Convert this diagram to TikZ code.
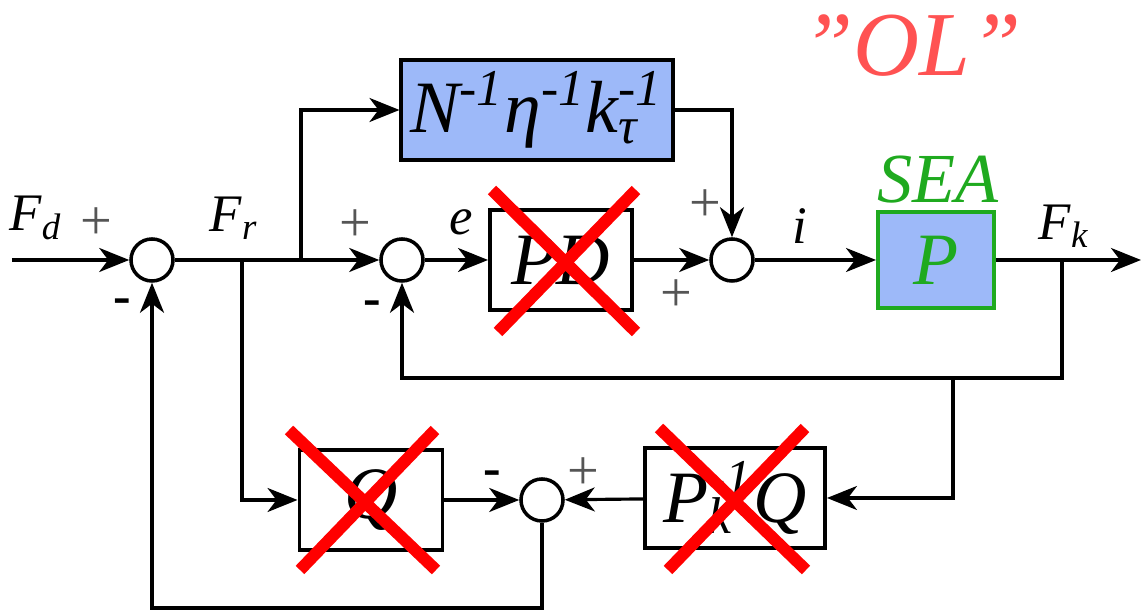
\documentclass[tikz,border=0pt]{standalone}
\usepackage{fontspec}
\setmainfont{Liberation Serif}
\usetikzlibrary{arrows.meta}
\definecolor{blkfill}{HTML}{9DB9F9}
\definecolor{seagreen}{HTML}{1FAA1F}
\definecolor{olred}{HTML}{FF5252}
\definecolor{sgngray}{HTML}{555555}
\newcommand{\sig}[2]{\textit{#1}\textsubscript{\textit{#2}}}
\newcommand{\inv}[1]{\textit{#1}\textsuperscript{\textit{-1}}}

\begin{document}
\begin{tikzpicture}[x=0.01cm, y=-0.01cm,
  blk/.style={draw, line width=1.1pt, inner sep=0pt, font=\fontsize{21}{24}\selectfont\itshape,
              minimum width=#1, minimum height=1cm},
  blk/.default=1.42cm,
  sum/.style={draw, circle, line width=1pt, minimum size=0.42cm, inner sep=0pt},
  lbl/.style={font=\fontsize{15}{18}\selectfont\itshape, inner sep=1pt},
  pls/.style={font=\fontsize{16}{18}\selectfont, text=sgngray, inner sep=0pt},
  mns/.style={font=\fontsize{15}{15}\selectfont\bfseries, inner sep=0pt},
  cross/.style={draw=red, line width=3.4pt},
  line width=0.9pt,
  >={Stealth[length=3mm, width=2.4mm, inset=0.9mm]}]
  \useasboundingbox (0,0) rectangle (1141,613);
  % summing junctions
  \node[sum] (sumd) at (152,260) {};
  \node[sum] (sume) at (402,260) {};
  \node[sum] (sumi) at (732,260) {};
  \node[sum] (sumq) at (542,500) {};
  % blocks
  \node[blk=2.71cm, fill=blkfill] (ffw) at (537,110) {\inv{N}\inv{η}\textit{k}\rlap{\textsubscript{\textit{τ}}}\textsuperscript{\textit{-1}}};
  \node[blk] (pd) at (561,260) {PD};
  \node[blk=1.16cm, minimum height=0.96cm, fill=blkfill, draw=seagreen, text=seagreen] (plant) at (936,260) {P};
  \node[blk=1.43cm] (qf) at (371,500) {Q};
  \node[blk=1.8cm] (pinv) at (735,498) {\textit{P}\rlap{\textsubscript{\textit{k}}}\textsuperscript{\textit{-1}}\textit{Q}};
  % branch points and free ends
  \coordinate (in)  at (12,260);
  \coordinate (brq) at (242,260);
  \coordinate (brn) at (301,260);
  \coordinate (brk) at (1062,260);
  \coordinate (out) at (1141,260);
  \coordinate (fbc) at (1062,378);
  \coordinate (fbq) at (953,378);
  \coordinate (bot) at (542,608);
  % connectors
  \draw[->] (in) -- (sumd);
  \draw[->] (sumd) -- (sume);
  \draw[->] (brq) |- (qf);
  \draw[->] (brn) |- (ffw);
  \draw[->] (sume) -- (pd);
  \draw[->] (pd) -- (sumi);
  \draw[->] (ffw) -| (sumi);
  \draw[->] (sumi) -- (plant);
  \draw[->] (plant) -- (out);
  \draw[->] (brk) -- (fbc) -| (sume);
  \draw[->] (fbq) |- (pinv);
  \draw[->] (pinv) -- (sumq);
  \draw[->] (qf) -- (sumq);
  \draw[->] (sumq) -- (bot) -| (sumd);
  % signals and signs
  \node[lbl] (fd) at (36,218) {\sig{F}{d}};
  \node[lbl] (fr) at (234,218) {\sig{F}{r}};
  \node[lbl] (err) at (461,222) {e};
  \node[lbl] (cur) at (800,226) {i};
  \node[lbl] (fk) at (1064,226) {\sig{F}{k}};
  \node[pls] (p1) at (96,224) {+};
  \node[mns] (m1) at (122,306) {-};
  \node[pls] (p2) at (355,226) {+};
  \node[mns] (m2) at (372,308) {-};
  \node[pls] (p3) at (705,206) {+};
  \node[pls] (p4) at (676,296) {+};
  \node[mns] (m4) at (492,478) {-};
  \node[pls] (p5) at (583,474) {+};
  \node[lbl, text=seagreen, font=\fontsize{20}{22}\selectfont\itshape] (sea) at (938,180) {SEA};
  \node[lbl, text=olred, font=\fontsize{26}{30}\selectfont\itshape] (ol) at (912,46) {\char34 OL\char34};
  % removed blocks
  \draw[cross] (492,190) -- (636,332);
  \draw[cross] (636,190) -- (498,332);
  \draw[cross] (289,430) -- (436,570);
  \draw[cross] (435,430) -- (300,570);
  \draw[cross] (659,428) -- (806,570);
  \draw[cross] (805,428) -- (668,570);
\end{tikzpicture}
\end{document}
